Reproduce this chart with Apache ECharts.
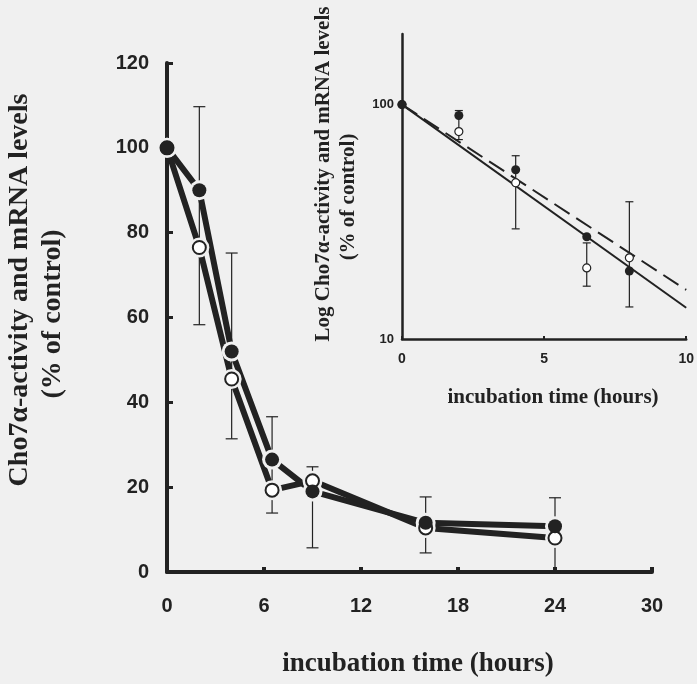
<!DOCTYPE html>
<html>
<head>
<meta charset="utf-8">
<script src="https://cdn.jsdelivr.net/npm/echarts@6/dist/echarts.min.js"></script>
<style>
  html, body { margin: 0; padding: 0; background: #f0f0f0; }
  #chart { width: 697px; height: 684px; }
</style>
</head>
<body>
<div id="chart"></div>
<script>
// main plot: time course (linear)
const mainHours = [0, 2, 4, 6.5, 9, 16, 24];
const activity = [100, 90, 52, 26.5, 19, 11.6, 10.8];   // filled circles
const mrna = [100, 76.5, 45.5, 19.3, 21.5, 10.4, 8];     // open circles
const errHours = [2, 4, 6.5, 9, 16, 24];
const errLow = [58.3, 31.4, 13.9, 5.7, 4.5, 0];
const errHigh = [109.7, 75.2, 36.6, 24.8, 17.7, 17.5];

// inset: log plot
const insetHours = [0, 2, 4, 6.5, 8];
const insetActivity = [100, 89.8, 52.7, 27.3, 19.5];
const insetMrna = [100, 76.7, 46.4, 20.1, 22.2];
const insetErrHours = [2, 4, 6.5, 8];
const insetErrLow = [70.9, 29.5, 16.8, 13.7];
const insetErrHigh = [94.3, 60.5, 25.7, 38.5];
const fitHours = [0, 10];
const fitActivity = [100, 13.6];
const fitMrna = [100, 16.2];

const INK = '#222';
const BG = '#f0f0f0';
const SERIF = '"Liberation Serif", "DejaVu Serif", serif';
const SANS = '"Liberation Sans", Arial, sans-serif';

const zip = (xs, ys) => xs.map((x, i) => [x, ys[i]]);
const errData = (xs, lo, hi) => xs.map((x, i) => [x, lo[i], hi[i]]);

function errorBars(capHalf) {
    return function (params, api) {
        const top = api.coord([api.value(0), api.value(2)]);
        const bot = api.coord([api.value(0), api.value(1)]);
        const st = { stroke: INK, lineWidth: 1.2 };
        return {
            type: 'group',
            children: [
                { type: 'line', shape: { x1: top[0], y1: top[1], x2: bot[0], y2: bot[1] }, style: st },
                { type: 'line', shape: { x1: top[0] - capHalf, y1: top[1], x2: top[0] + capHalf, y2: top[1] }, style: st },
                { type: 'line', shape: { x1: bot[0] - capHalf, y1: bot[1], x2: bot[0] + capHalf, y2: bot[1] }, style: st }
            ]
        };
    };
}

function vText(x, y, text, size) {
    return { type: 'text', x: x, y: y, rotation: Math.PI / 2,
             style: { text: text, font: 'bold ' + size + 'px ' + SERIF, fill: INK, align: 'center', verticalAlign: 'middle' } };
}

const chart = echarts.init(document.getElementById('chart'));

chart.setOption({
    backgroundColor: BG,
    animation: false,
    grid: [
        { left: 167, top: 63, right: 45, bottom: 112 },
        { left: 402, top: 34, right: 7, bottom: 345 }
    ],
    xAxis: [
        {
            gridIndex: 0, type: 'value', min: 0, max: 30, interval: 6,
            axisLine: { lineStyle: { color: INK, width: 4 } },
            axisTick: { inside: true, length: 5, lineStyle: { color: INK, width: 4 } },
            axisLabel: { color: INK, fontFamily: SANS, fontWeight: 'bold', fontSize: 20, margin: 24 },
            splitLine: { show: false }
        },
        {
            gridIndex: 1, type: 'value', min: 0, max: 10, interval: 5,
            axisLine: { lineStyle: { color: INK, width: 2.5 } },
            axisTick: { inside: true, length: 3, lineStyle: { color: INK, width: 2 } },
            axisLabel: { color: INK, fontFamily: SANS, fontWeight: 'bold', fontSize: 14, margin: 13 },
            splitLine: { show: false }
        }
    ],
    yAxis: [
        {
            gridIndex: 0, type: 'value', min: 0, max: 120, interval: 20,
            axisLine: { show: true, lineStyle: { color: INK, width: 4 } },
            axisTick: { show: true, inside: true, length: 6, lineStyle: { color: INK, width: 3 } },
            axisLabel: { color: INK, fontFamily: SANS, fontWeight: 'bold', fontSize: 20, margin: 18 },
            splitLine: { show: false }
        },
        {
            gridIndex: 1, type: 'log', logBase: 10, min: 10, max: 200,
            axisLine: { show: true, lineStyle: { color: INK, width: 2.5 } },
            axisTick: { show: false },
            axisLabel: {
                color: INK, fontFamily: SANS, fontWeight: 'bold', fontSize: 13, margin: 8,
                formatter: v => Math.abs(Math.log10(v) - Math.round(Math.log10(v))) < 1e-6 ? String(Math.round(v)) : ''
            },
            splitLine: { show: false }
        }
    ],
    graphic: [
        vText(20, 290, 'Cho7\u03b1-activity and mRNA levels', 28),
        vText(53, 314, '(% of control)', 28),
        { type: 'text', x: 418, y: 664,
          style: { text: 'incubation time (hours)', font: 'bold 27px ' + SERIF, fill: INK, align: 'center', verticalAlign: 'middle' } },
        vText(324, 174, 'Log Cho7\u03b1-activity and mRNA levels', 21),
        vText(349, 197, '(% of control)', 21),
        { type: 'text', x: 553, y: 398,
          style: { text: 'incubation time (hours)', font: 'bold 21px ' + SERIF, fill: INK, align: 'center', verticalAlign: 'middle' } }
    ],
    series: [
        // ---- main plot
        { type: 'custom', xAxisIndex: 0, yAxisIndex: 0, z: 1, renderItem: errorBars(6),
          data: errData(errHours, errLow, errHigh), encode: { x: 0, y: [1, 2] } },
        { type: 'line', xAxisIndex: 0, yAxisIndex: 0, z: 2, data: zip(mainHours, activity), showSymbol: false,
          lineStyle: { color: INK, width: 6 } },
        { type: 'line', xAxisIndex: 0, yAxisIndex: 0, z: 2, data: zip(mainHours, mrna), showSymbol: false,
          lineStyle: { color: INK, width: 6 } },
        // gap rings around markers
        { type: 'scatter', xAxisIndex: 0, yAxisIndex: 0, z: 3, symbolSize: 20, itemStyle: { color: BG, opacity: 1 },
          data: zip(mainHours, activity).concat(zip(mainHours, mrna)) },
        { type: 'scatter', xAxisIndex: 0, yAxisIndex: 0, z: 4, symbolSize: 13,
          itemStyle: { color: '#fff', borderColor: INK, borderWidth: 2, opacity: 1 }, data: zip(mainHours, mrna) },
        { type: 'scatter', xAxisIndex: 0, yAxisIndex: 0, z: 5, symbolSize: 14,
          itemStyle: { color: INK, opacity: 1 }, data: zip(mainHours, activity) },

        // ---- inset
        { type: 'custom', xAxisIndex: 1, yAxisIndex: 1, z: 6, renderItem: errorBars(4),
          data: errData(insetErrHours, insetErrLow, insetErrHigh), encode: { x: 0, y: [1, 2] } },
        { type: 'line', xAxisIndex: 1, yAxisIndex: 1, z: 7, data: zip(fitHours, fitActivity), showSymbol: false,
          lineStyle: { color: INK, width: 2 } },
        { type: 'line', xAxisIndex: 1, yAxisIndex: 1, z: 7, data: zip(fitHours, fitMrna), showSymbol: false,
          lineStyle: { color: INK, width: 2, type: [18, 8] } },
        { type: 'scatter', xAxisIndex: 1, yAxisIndex: 1, z: 8, symbolSize: 8,
          itemStyle: { color: '#fff', borderColor: INK, borderWidth: 1.2, opacity: 1 }, data: zip(insetHours, insetMrna) },
        { type: 'scatter', xAxisIndex: 1, yAxisIndex: 1, z: 9, symbolSize: 9,
          itemStyle: { color: INK, opacity: 1 }, data: zip(insetHours, insetActivity) }
    ]
});
</script>
</body>
</html>
